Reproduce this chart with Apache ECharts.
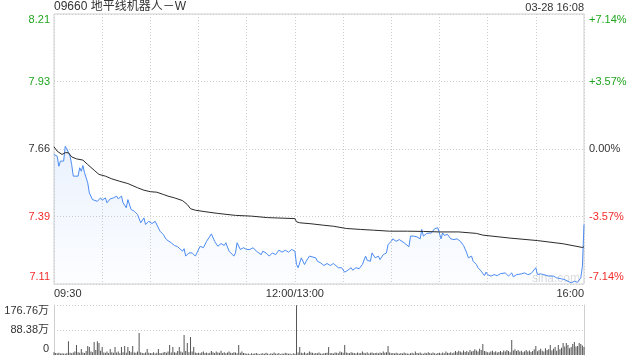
<!DOCTYPE html>
<html><head><meta charset="utf-8">
<script src="https://cdn.jsdelivr.net/npm/echarts@6/dist/echarts.min.js"></script>
<style>html,body{margin:0;padding:0;background:#fff}#c{width:640px;height:360px}</style>
</head><body><div id="c"></div>
<script>
const stockTitle = '09660 地平线机器人－W';
const stampText = '03-28 16:08';
const priceTickLabels = ['7.11', '7.39', '7.66', '7.93', '8.21'];
const pctTickLabels = ['-7.14%', '-3.57%', '0.00%', '+3.57%', '+7.14%'];
const volTickLabels = ['0', '88.38万', '176.76万'];
const timeTickMinutes = [0, 150, 330];
const timeTickLabels = ['09:30', '12:00/13:00', '16:00'];

const priceMinutes = [0,2,3,4,5,6,7,8,9,10,11,12,15,16,17,18,19,21,22,24,25,27,29,30,32,33,35,37,39,40,42,43,45,46,48,49,50,52,54,56,57,59,61,63,64,66,68,70,73,75,77,78,80,81,82,83,84,86,88,89,91,93,95,98,100,102,104,106,107,109,112,113,114,116,118,120,122,124,126,127,129,130,132,134,136,138,140,142,144,146,148,150,
151,152,153,154,156,157,159,160,163,164,166,168,170,172,174,175,177,179,181,183,185,186,188,190,192,194,195,197,198,200,202,203,205,207,208,210,211,213,215,218,219,221,222,224,226,228,229,230,232,233,235,236,237,239,240,241,242,243,245,247,249,251,253,255,257,258,260,261,263,264,266,268,269,270,272,274,276,278,279,281,283,285,286,288,291,293,295,297,300,301,303,305,308,311,313,316,318,320,322,324,326,328,329,330];
const prices = [7.636,7.629,7.588,7.609,7.602,7.609,7.669,7.659,7.643,7.629,7.595,7.548,7.548,7.582,7.568,7.591,7.562,7.521,7.480,7.453,7.460,7.446,7.460,7.451,7.460,7.440,7.456,7.460,7.467,7.456,7.467,7.440,7.420,7.453,7.413,7.420,7.406,7.393,7.359,7.379,7.352,7.365,7.356,7.365,7.359,7.325,7.312,7.291,7.278,7.267,7.262,7.267,7.244,7.254,7.224,7.221,7.237,7.237,7.224,7.237,7.264,7.258,7.284,7.314,7.284,7.264,7.275,7.267,7.278,7.244,7.224,7.237,7.278,7.251,7.258,7.251,7.251,7.258,7.244,7.240,7.230,7.244,7.237,7.224,7.237,7.230,7.248,7.240,7.248,7.240,7.251,7.244,
7.190,7.177,7.197,7.217,7.190,7.203,7.224,7.217,7.217,7.203,7.197,7.186,7.194,7.186,7.194,7.186,7.177,7.177,7.159,7.167,7.177,7.167,7.177,7.173,7.190,7.224,7.207,7.203,7.237,7.217,7.224,7.210,7.230,7.237,7.271,7.284,7.294,7.284,7.291,7.278,7.284,7.262,7.305,7.305,7.302,7.294,7.332,7.305,7.316,7.312,7.318,7.312,7.335,7.339,7.335,7.294,7.318,7.308,7.312,7.294,7.291,7.294,7.284,7.267,7.237,7.217,7.224,7.203,7.190,7.177,7.163,7.145,7.159,7.149,7.143,7.149,7.145,7.153,7.145,7.156,7.143,7.156,7.140,7.149,7.152,7.156,7.149,7.153,7.177,7.149,7.152,7.149,7.143,7.143,7.136,7.132,7.129,7.122,7.116,7.122,7.118,7.136,7.183,7.352];

const avgMinutes = [0,2,5,7,9,11,14,18,21,25,28,32,36,41,46,52,56,60,64,68,71,75,80,83,85,88,94,102,113,123,133,150,151,153,160,168,174,182,191,199,209,220,230,240,252,263,267,284,301,317,329,330];
const avgPrices = [7.667,7.649,7.636,7.643,7.643,7.626,7.618,7.613,7.595,7.572,7.555,7.548,7.537,7.527,7.518,7.501,7.491,7.485,7.483,7.474,7.467,7.460,7.449,7.433,7.416,7.410,7.404,7.397,7.389,7.386,7.380,7.376,7.363,7.359,7.355,7.349,7.345,7.336,7.332,7.329,7.325,7.325,7.324,7.322,7.322,7.316,7.309,7.297,7.287,7.274,7.259,7.262];

// volume per minute, in 万股 (index = minute from 09:30, lunch break removed)
const volumes = [
10,7,6,8,5,6,5,4,7,49,
8,6,9,12,35,10,8,21,9,7,
14,32,28,12,10,46,18,49,42,15,
28,9,8,12,7,21,10,8,28,9,
12,6,28,10,32,8,28,14,10,32,
9,8,12,78,10,7,6,9,21,8,
7,6,10,5,8,21,7,6,9,11,
8,12,35,9,28,10,8,14,28,12,
9,71,14,42,10,64,12,28,9,7,
8,6,10,12,7,9,6,8,14,10,
7,12,9,8,15,7,10,6,9,12,
8,7,10,9,6,35,8,12,7,6,
4,5,3,6,4,5,7,4,3,5,
6,4,8,5,3,6,4,9,5,4,
7,3,5,4,8,6,4,5,3,6,
4,
176,
9,28,8,6,10,5,7,12,9,
8,5,7,6,9,5,4,6,7,8,
28,6,7,5,9,8,6,12,10,8,
35,9,7,6,10,8,7,5,9,6,
7,12,8,6,10,5,8,9,6,7,
8,6,9,7,12,8,10,32,9,6,
7,5,8,6,4,7,5,9,6,5,
4,6,8,5,12,7,6,9,5,4,
8,6,10,7,5,9,6,4,7,8,
5,9,6,12,8,7,10,6,9,14,
10,15,12,9,16,11,14,10,18,12,
14,20,16,12,22,18,39,14,12,10,
9,12,15,10,13,9,11,14,10,16,
12,18,14,10,53,16,20,14,18,12,
15,10,13,18,12,16,11,14,20,32,
13,17,22,15,12,24,18,20,35,16,
22,28,15,35,20,26,42,30,42,35,
24,28,39,46,30,32,42,39,34,28];

const FONT = '"Liberation Sans", Arial, "Noto Sans CJK SC", sans-serif';
const GREEN = '#1fa51f', RED = '#f32b2b', DARK = '#333';
const GRID_C = '#cfcfcf';
const DOT = [1, 2];
function st(color, pad) { return { color: color, fontSize: 11, fontFamily: FONT, padding: pad || 0 }; }
const TOPPAD = [12, 0, 0, 0], BOTPAD = [0, 0, 14, 0];

const chart = echarts.init(document.getElementById('c'), null, { renderer: 'canvas' });
chart.setOption({
  animation: false,
  backgroundColor: '#fff',
  title: [
    { text: stockTitle, left: 54, top: 1, padding: 0, textStyle: { fontSize: 12, fontWeight: 'normal', color: DARK, fontFamily: FONT } },
    { text: stampText, right: 56, top: 2, padding: 0, textStyle: { fontSize: 11, fontWeight: 'normal', color: DARK, fontFamily: FONT } }
  ],
  graphic: [{ type: 'text', left: 532, top: 273, z: 0, style: { text: 'sina.com', fill: '#dcdcdc', font: '12px ' + FONT } }],
  grid: [
    { left: 54, right: 56, top: 14, height: 270, show: true, borderColor: GRID_C, borderWidth: 1, containLabel: false, outerBoundsMode: 'none' },
    { left: 54, right: 56, top: 305, height: 50, show: false, containLabel: false, outerBoundsMode: 'none' }
  ],
  xAxis: [
    { type: 'value', gridIndex: 0, min: 0, max: 330, interval: 30,
      axisLine: { show: false }, axisTick: { show: false },
      splitLine: { show: true, lineStyle: { color: GRID_C, type: DOT, width: 1 } },
      axisLabel: { show: true, margin: 4, color: DARK, fontSize: 11, fontFamily: FONT,
        alignMinLabel: 'left', alignMaxLabel: 'right', showMinLabel: true, showMaxLabel: true,
        formatter: function (v) { const k = timeTickMinutes.indexOf(v); return k < 0 ? '' : timeTickLabels[k]; } } },
    { type: 'value', gridIndex: 1, min: 0, max: 330, interval: 30,
      axisLine: { show: false }, axisTick: { show: false }, axisLabel: { show: false }, splitLine: { show: false } }
  ],
  yAxis: [
    { type: 'value', gridIndex: 0, position: 'left', min: 7.111, max: 8.205, interval: 0.2735,
      axisLine: { show: false }, axisTick: { show: false },
      splitLine: { show: true, lineStyle: { color: GRID_C, type: DOT, width: 1 } },
      axisLabel: { margin: 4, formatter: function (v, i) {
          const c = i < 2 ? 'r' : (i === 2 ? 'k' : 'g');
          const p = i === 0 ? 'B' : (i === 4 ? 'T' : '');
          return '{' + c + p + '|' + priceTickLabels[i] + '}'; },
        rich: { r: st(RED), rB: st(RED, BOTPAD), k: st(DARK), g: st(GREEN), gT: st(GREEN, TOPPAD) } } },
    { type: 'value', gridIndex: 0, position: 'right', min: -7.14, max: 7.14, interval: 3.57,
      axisLine: { show: false }, axisTick: { show: false }, splitLine: { show: false },
      axisLabel: { margin: 5, formatter: function (v, i) {
          const c = i < 2 ? 'r' : (i === 2 ? 'k' : 'g');
          const p = i === 0 ? 'B' : (i === 4 ? 'T' : '');
          return '{' + c + p + '|' + pctTickLabels[i] + '}'; },
        rich: { r: st(RED), rB: st(RED, BOTPAD), k: st(DARK), g: st(GREEN), gT: st(GREEN, TOPPAD) } } },
    { type: 'value', gridIndex: 1, position: 'left', min: 0, max: 176.76, interval: 88.38,
      axisLine: { show: true, lineStyle: { color: GRID_C, width: 1 } }, axisTick: { show: false },
      splitLine: { show: true, lineStyle: { color: ['rgba(0,0,0,0)', GRID_C, GRID_C], type: DOT, width: 1 } },
      axisLabel: { margin: 5, formatter: function (v, i) {
          const p = i === 0 ? 'b' : (i === 2 ? 't' : 'n');
          return '{' + p + '|' + volTickLabels[i] + '}'; },
        rich: { b: st(DARK, [0, 0, 12, 0]), n: st(DARK), t: st(DARK, TOPPAD) } } },
    { type: 'value', gridIndex: 1, position: 'right', min: 0, max: 176.76,
      axisLine: { show: true, lineStyle: { color: GRID_C, width: 1 } }, axisTick: { show: false },
      axisLabel: { show: false }, splitLine: { show: false } }
  ],
  series: [
    { type: 'line', name: 'price', xAxisIndex: 0, yAxisIndex: 0, showSymbol: false, silent: true,
      data: priceMinutes.map((m, i) => [m, prices[i]]),
      lineStyle: { color: '#4b8bf2', width: 1 },
      areaStyle: { origin: 'start', color: new echarts.graphic.LinearGradient(0, 0, 0, 1, [
        { offset: 0, color: 'rgba(75,139,242,0.16)' }, { offset: 1, color: 'rgba(75,139,242,0.02)' }]) },
      z: 3 },
    { type: 'line', name: 'avg', xAxisIndex: 0, yAxisIndex: 0, showSymbol: false, silent: true,
      data: avgMinutes.map((m, i) => [m, avgPrices[i]]),
      lineStyle: { color: '#2b2b2b', width: 1 }, z: 4 },
    { type: 'bar', name: 'vol', xAxisIndex: 1, yAxisIndex: 2, silent: true, barWidth: 1,
      data: volumes.map((v, i) => [i, v]), itemStyle: { color: '#555' } }
  ]
});
</script></body></html>
